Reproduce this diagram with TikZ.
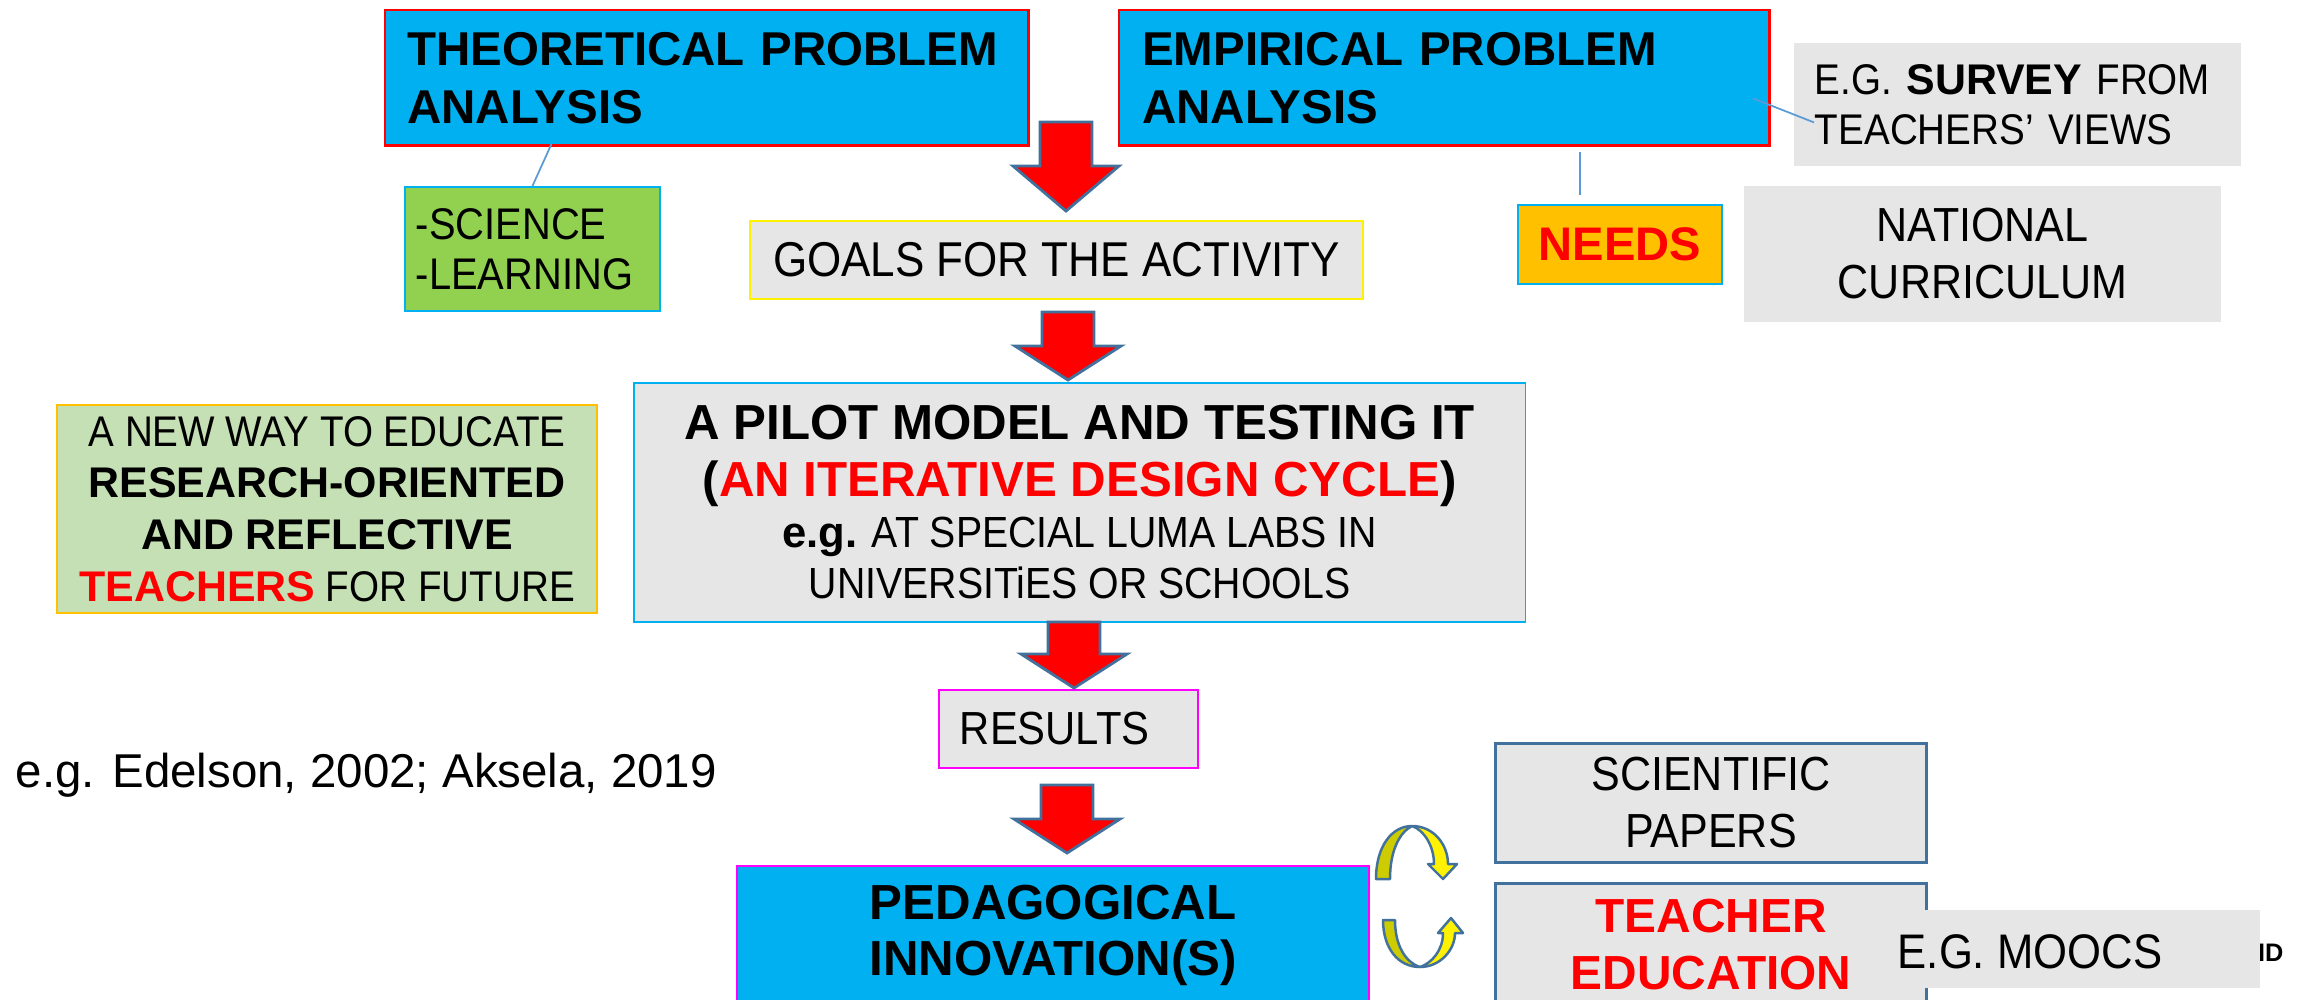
\documentclass[tikz,border=0pt]{standalone}
\usepackage{fontspec}
\setmainfont{Liberation Sans}
\newfontfamily\narrowsf{Liberation Sans}[FakeStretch=0.9]
\usepackage{xcolor}
\usepackage{tikz}
\definecolor{skyfill}{HTML}{00B0F0}
\definecolor{boxgray}{HTML}{E7E6E6}
\definecolor{leafgreen}{HTML}{92D050}
\definecolor{palegreen}{HTML}{C5E0B4}
\definecolor{amber}{HTML}{FFC000}
\definecolor{steel}{HTML}{41719C}
\definecolor{linkblue}{HTML}{5B9BD5}
\definecolor{olivey}{HTML}{CCCC00}
\definecolor{pinkline}{HTML}{FF00FF}
\newcommand{\boldword}[1]{{\rmfamily\bfseries #1}}
\newcommand{\redarrow}[4]{%
  \draw[blockarrow] (#1-26,#2) -- (#1+26,#2) -- (#1+26,#3) -- (#1+53,#3) -- (#1,#4) -- (#1-53,#3) -- (#1-26,#3) -- cycle;}

\begin{document}
\begin{tikzpicture}[x=0.01cm, y=-0.01cm,
    box/.style={draw, inner sep=0pt, anchor=north west, line width=0.5pt},
    link/.style={linkblue, line width=0.5pt},
    blockarrow/.style={fill=red, draw=steel, line width=0.8pt},
    curlarrow/.style={draw=steel, line width=0.7pt, line join=round}]
    \useasboundingbox (0,0) rectangle (2297,999);
    \clip (0,0) rectangle (2297,999);

    % problem analysis boxes
    \node (theo) [box, fill=skyfill, draw=red, line width=0.7pt, minimum height=1.35cm, inner xsep=0.22cm, text width=5.99cm, align=left, font=\bfseries\fontsize{13.5}{16.5}\selectfont] at (384,9) {THEORETICAL PROBLEM\\ANALYSIS};
    \node (emp) [box, fill=skyfill, draw=red, line width=0.7pt, minimum height=1.35cm, inner xsep=0.23cm, text width=6.04cm, align=left, font=\bfseries\fontsize{13.5}{16.5}\selectfont] at (1118,9) {EMPIRICAL PROBLEM\\ANALYSIS};
    \node (survey) [box, fill=boxgray, draw=none, minimum height=1.23cm, inner xsep=0.21cm, text width=4.05cm, align=left, font=\narrowsf\fontsize{12.2}{14.2}\selectfont] at (1793,42) {E.G. \boldword{SURVEY} FROM\\TEACHERS’ VIEWS};
    \node (science) [box, fill=leafgreen, draw=skyfill, minimum height=1.24cm, inner xsep=0.11cm, text width=2.33cm, align=left, font=\narrowsf\fontsize{12.6}{14.2}\selectfont] at (404,186) {-SCIENCE\\-LEARNING};
    \node (goals) [box, fill=boxgray, draw=yellow, minimum width=6.13cm, minimum height=0.78cm, font=\narrowsf\fontsize{13.9}{16}\selectfont] at (749,220) {GOALS FOR THE ACTIVITY};
    \node (needs) [box, fill=amber, draw=skyfill, minimum width=2.04cm, minimum height=0.79cm, text=red, font=\bfseries\fontsize{13.4}{16}\selectfont] at (1517,204) {NEEDS};
    \node (curriculum) [box, fill=boxgray, draw=none, minimum width=4.77cm, minimum height=1.36cm, align=center, font=\narrowsf\fontsize{13.6}{16.2}\selectfont] at (1743,185) {NATIONAL\\CURRICULUM};

    % pilot and side note
    \node (newway) [box, fill=palegreen, draw=amber, minimum width=5.40cm, minimum height=2.08cm, align=center, font=\narrowsf\fontsize{12.2}{14.7}\selectfont] at (56,404) {A NEW WAY TO EDUCATE\\\boldword{RESEARCH-ORIENTED}\\\boldword{AND REFLECTIVE}\\\boldword{\textcolor{red}{TEACHERS}} FOR FUTURE};
    \node (pilot) [box, fill=boxgray, draw=skyfill, minimum width=8.91cm, minimum height=2.39cm, align=center, font=\bfseries\fontsize{14}{16.2}\selectfont] at (633,382) {A PILOT MODEL AND TESTING IT\\(\textcolor{red}{AN ITERATIVE DESIGN CYCLE})\\[-1.7pt]{\narrowsf\mdseries\fontsize{12.4}{14.8}\selectfont\boldword{e.g.} AT SPECIAL LUMA LABS IN}\\[-1.7pt]{\narrowsf\mdseries\fontsize{12.4}{14.8}\selectfont UNIVERSITiES OR SCHOOLS}};

    \node (results) [box, fill=boxgray, draw=pinkline, minimum height=0.78cm, inner xsep=0.21cm, text width=2.17cm, align=left, font=\narrowsf\fontsize{13.2}{16}\selectfont] at (938,689) {RESULTS};
    \node (ref) [inner sep=0pt, anchor=base west, font=\fontsize{13.5}{16}\selectfont] at (15,787) {e.g. Edelson, 2002; Aksela, 2019};

    % outputs
    \node (pedagogy) [box, fill=skyfill, draw=pinkline, minimum width=6.32cm, minimum height=1.39cm, align=center, font=\bfseries\fontsize{14}{16}\selectfont] at (736,865) {PEDAGOGICAL\\INNOVATION(S)};
    \node (papers) [box, fill=boxgray, draw=steel, line width=0.8pt, minimum width=4.31cm, minimum height=1.19cm, align=center, font=\narrowsf\fontsize{13.6}{16.2}\selectfont] at (1494,742) {SCIENTIFIC\\PAPERS};
    \node (teachered) [box, fill=boxgray, draw=steel, line width=0.8pt, minimum width=4.31cm, minimum height=1.22cm, align=center, text=red, font=\bfseries\fontsize{13.6}{16}\selectfont] at (1494,882) {TEACHER\\EDUCATION};
    \node (hidden) [inner sep=0pt, anchor=base east, font=\bfseries\fontsize{7.2}{8}\selectfont] at (2284,961) {ID};
    \fill[boxgray] (1924,910) rectangle (2260,988);
    \node (moocs) [inner sep=0pt, anchor=base west, font=\narrowsf\fontsize{13.8}{16}\selectfont] at (1897,968) {E.G. MOOCS};

    % thin links
    \draw[link] (science.north) -- ++(19,-42);
    \draw[link] (needs.north) ++(-40,-9) -- ++(0,-43);
    \draw[link] (survey.west) ++(21,18) -- ++(-61,-24);

    % red block arrows
    \redarrow{1066}{122}{166}{211}
    \redarrow{1068}{312}{346}{380}
    \redarrow{1074}{622}{654}{688}
    \redarrow{1067}{785}{819}{853}

    % yellow turning arrows
    \draw[curlarrow, fill=olivey] (1376,879) .. controls (1376,846) and (1392,826) .. (1412,826) .. controls (1400,832) and (1390,850) .. (1390,879) -- cycle;
    \draw[curlarrow, fill=yellow] (1412,826) .. controls (1434,826) and (1448,845) .. (1448,864) -- (1457,864) -- (1443,879) -- (1428,864) -- (1434,864) .. controls (1434,846) and (1424,830) .. (1412,826) -- cycle;
    \draw[curlarrow, fill=olivey] (1383,920) .. controls (1383,948) and (1398,967) .. (1420,967) .. controls (1405,962) and (1395,945) .. (1395,920) -- cycle;
    \draw[curlarrow, fill=yellow] (1420,967) .. controls (1440,967) and (1455,950) .. (1455,933) -- (1463,933) -- (1451,918) -- (1438,933) -- (1443,933) .. controls (1443,950) and (1432,963) .. (1420,967) -- cycle;
\end{tikzpicture}
\end{document}
